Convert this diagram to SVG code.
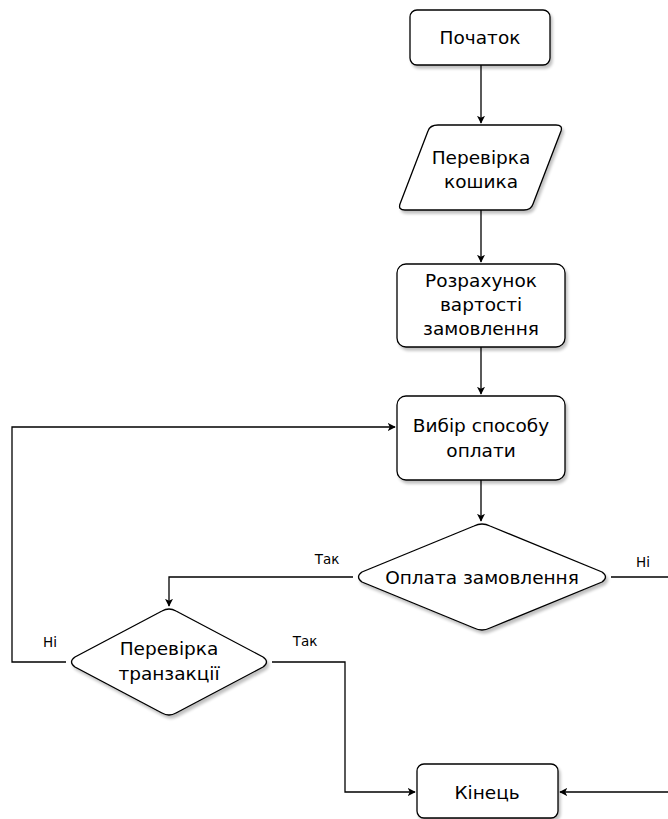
<svg xmlns="http://www.w3.org/2000/svg" width="668" height="819" viewBox="0 0 668 819">
  <style>
    .shape { fill: #ffffff; stroke: #000000; stroke-width: 1.3; }
    .node text { font-family: "DejaVu Sans", Verdana, sans-serif; font-size: 18.5px; fill: #000000; text-anchor: middle; }
    .edge { fill: none; stroke: #000000; stroke-width: 1.3; }
    .label { font-family: "DejaVu Sans", Verdana, sans-serif; font-size: 13.5px; fill: #000000; text-anchor: middle; }
  </style>
  <defs>
    <marker id="arrow" viewBox="0 0 10 10" refX="9" refY="5" markerWidth="8" markerHeight="8" markerUnits="userSpaceOnUse" orient="auto">
      <path d="M0,0 L10,5 L0,10 L2.5,5 Z" fill="#000000"/>
    </marker>
    <filter id="shadow" x="-10%" y="-10%" width="125%" height="130%">
      <feGaussianBlur in="SourceAlpha" stdDeviation="1.5"/>
      <feOffset dx="2" dy="3" result="off"/>
      <feComponentTransfer><feFuncA type="linear" slope="0.25"/></feComponentTransfer>
      <feMerge><feMergeNode/><feMergeNode in="SourceGraphic"/></feMerge>
    </filter>
  </defs>
  <rect width="668" height="819" fill="#ffffff"/>

  <g id="connectors">
    <path class="edge" d="M481,65 L481,123" marker-end="url(#arrow)"/>
    <path class="edge" d="M481,210 L481,262" marker-end="url(#arrow)"/>
    <path class="edge" d="M481,347 L481,394" marker-end="url(#arrow)"/>
    <path class="edge" d="M481,480 L481,521" marker-end="url(#arrow)"/>
    <path class="edge" d="M353,577 L169,577 L169,606" marker-end="url(#arrow)"/>
    <path class="edge" d="M611,577 L668,577"/>
    <path class="edge" d="M668,792 L560,792" marker-end="url(#arrow)"/>
    <path class="edge" d="M66,662 L12,662 L12,427 L395,427" marker-end="url(#arrow)"/>
    <path class="edge" d="M272,662 L345,662 L345,792 L415,792" marker-end="url(#arrow)"/>
    <text class="label" x="327" y="564">Так</text>
    <text class="label" x="643" y="567">Ні</text>
    <text class="label" x="305" y="646">Так</text>
    <text class="label" x="50" y="647">Ні</text>
  </g>

  <g id="start" class="node">
    <rect class="shape" x="410" y="10" width="140" height="55" rx="7" filter="url(#shadow)"/>
    <text x="480" y="44">Початок</text>
  </g>

  <g id="check-cart" class="node">
    <path class="shape" d="M438,125 L556,125 Q563,125 561,131 L533,204 Q531,210 524,210 L405,210 Q398,210 400,204 L428,131 Q430,125 438,125 Z" filter="url(#shadow)"/>
    <text x="481" y="164">Перевірка</text>
    <text x="481" y="188">кошика</text>
  </g>

  <g id="calc-cost" class="node">
    <rect class="shape" x="397" y="264" width="168" height="83" rx="9" filter="url(#shadow)"/>
    <text x="481" y="287">Розрахунок</text>
    <text x="481" y="311">вартості</text>
    <text x="481" y="335">замовлення</text>
  </g>

  <g id="choose-payment" class="node">
    <rect class="shape" x="397" y="396" width="168" height="84" rx="9" filter="url(#shadow)"/>
    <text x="481" y="432">Вибір способу</text>
    <text x="481" y="457">оплати</text>
  </g>

  <g id="payment" class="node">
    <path class="shape" d="M474,526 Q482,522 490,526 L602,572 Q609,577 602,582 L490,628 Q482,632 474,628 L362,582 Q355,577 362,572 Z" filter="url(#shadow)"/>
    <text x="482" y="584">Оплата замовлення</text>
  </g>

  <g id="check-transaction" class="node">
    <path class="shape" d="M162,611 Q169,607 176,611 L263,657 Q270,662 263,667 L176,713 Q169,717 162,713 L75,667 Q68,662 75,657 Z" filter="url(#shadow)"/>
    <text x="169" y="655">Перевірка</text>
    <text x="169" y="680">транзакції</text>
  </g>

  <g id="end" class="node">
    <rect class="shape" x="417" y="764" width="141" height="54" rx="7" filter="url(#shadow)"/>
    <text x="487" y="799">Кінець</text>
  </g>
</svg>
